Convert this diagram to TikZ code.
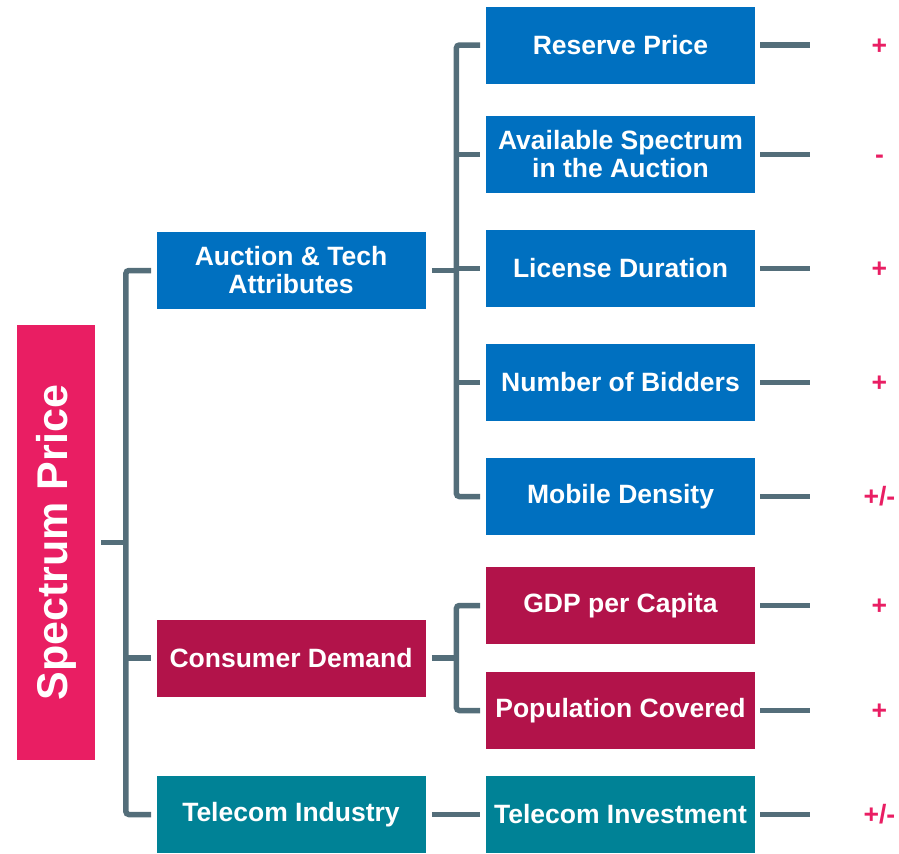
\documentclass[tikz,border=0pt]{standalone}
\usepackage{fontspec}
\setmainfont{Liberation Sans}
\usetikzlibrary{positioning}

\definecolor{pricepink}{HTML}{E91E63}
\definecolor{auctionblue}{HTML}{0070C0}
\definecolor{demandred}{HTML}{B2134A}
\definecolor{industryteal}{HTML}{008296}
\definecolor{linkgrey}{HTML}{546E7A}

\begin{document}
\begin{tikzpicture}[
    on grid,
    every node/.style={text=white, font=\bfseries\fontsize{13.25}{14}\selectfont, align=center},
    factor/.style={minimum width=134.5pt, minimum height=38.5pt, inner sep=0pt},
    link/.style={draw=linkgrey, line width=2.75pt},
    sign/.style={text=pricepink, anchor=base, yshift=-4.5pt}
]
    \useasboundingbox (0,0) rectangle (449.5pt,-426.5pt);

    % Define nodes
    \node[factor, fill=auctionblue] (reserve) at (310.25pt,-22.5pt) {Reserve Price};
    \node[factor, fill=auctionblue, below=54.75pt of reserve] (available) {Available Spectrum\\in the Auction};
    \node[factor, fill=auctionblue, below=57pt of available] (license) {License Duration};
    \node[factor, fill=auctionblue, below=57pt of license] (bidders) {Number of Bidders};
    \node[factor, fill=auctionblue, below=57pt of bidders] (density) {Mobile Density};
    \node[factor, fill=demandred, below=54.5pt of density] (gdp) {GDP per Capita};
    \node[factor, fill=demandred, below=52.5pt of gdp] (population) {Population Covered};
    \node[factor, fill=industryteal, below=52pt of population] (investment) {Telecom Investment};

    \node[factor, fill=auctionblue, left=164.75pt of license, yshift=-1pt] (auction) {Auction \& Tech\\Attributes};
    \node[factor, fill=demandred, left=164.75pt of gdp, yshift=-26.25pt] (demand) {Consumer Demand};
    \node[factor, fill=industryteal, left=164.75pt of investment] (industry) {Telecom Industry};

    \node[fill=pricepink, minimum width=217.5pt, minimum height=39pt, inner sep=0pt,
          font=\bfseries\fontsize{21.5}{24}\selectfont, rotate=90] (price) at (28pt,-271.25pt) {Spectrum Price};

    % Signs
    \node[right=62pt of reserve.east, sign] (reserve-sign) {+};
    \node[right=62pt of available.east, sign] (available-sign) {-};
    \node[right=62pt of license.east, sign] (license-sign) {+};
    \node[right=62pt of bidders.east, sign] (bidders-sign) {+};
    \node[right=62pt of density.east, sign] (density-sign) {+/-};
    \node[right=62pt of gdp.east, sign] (gdp-sign) {+};
    \node[right=62pt of population.east, sign] (population-sign) {+};
    \node[right=62pt of investment.east, sign] (investment-sign) {+/-};

    % Buses
    \coordinate (pricebus) at ([xshift=15.25pt]price.south);
    \coordinate (auctionbus) at ([xshift=15.25pt]auction.east);
    \coordinate (demandbus) at ([xshift=15.25pt]demand.east);

    % Connectors
    \draw[link] ([xshift=3pt]price.south) -- (pricebus);
    \draw[link, rounded corners=1.5pt] ([xshift=-2.5pt]auction.west) -| (pricebus) |- ([xshift=-2.5pt]industry.west);
    \draw[link] (pricebus |- demand) -- ([xshift=-2.5pt]demand.west);

    \draw[link] ([xshift=3pt]auction.east) -- (auctionbus);
    \draw[link, rounded corners=1.5pt] ([xshift=-2.75pt]reserve.west) -| (auctionbus) |- ([xshift=-2.75pt]density.west);
    \draw[link] (auctionbus |- available) -- ([xshift=-2.75pt]available.west);
    \draw[link] (auctionbus |- license) -- ([xshift=-2.75pt]license.west);
    \draw[link] (auctionbus |- bidders) -- ([xshift=-2.75pt]bidders.west);

    \draw[link] ([xshift=3pt]demand.east) -- (demandbus);
    \draw[link, rounded corners=1.5pt] ([xshift=-2.75pt]gdp.west) -| (demandbus) |- ([xshift=-2.75pt]population.west);

    \path[link, shorten <=3pt, shorten >=2.75pt] (industry) edge (investment);

    % Ticks
    \draw[link] ([xshift=2.5pt]reserve.east) -- ([xshift=27.5pt]reserve.east);
    \draw[link] ([xshift=2.5pt]available.east) -- ([xshift=27.5pt]available.east);
    \draw[link] ([xshift=2.5pt]license.east) -- ([xshift=27.5pt]license.east);
    \draw[link] ([xshift=2.5pt]bidders.east) -- ([xshift=27.5pt]bidders.east);
    \draw[link] ([xshift=2.5pt]density.east) -- ([xshift=27.5pt]density.east);
    \draw[link] ([xshift=2.5pt]gdp.east) -- ([xshift=27.5pt]gdp.east);
    \draw[link] ([xshift=2.5pt]population.east) -- ([xshift=27.5pt]population.east);
    \draw[link] ([xshift=2.5pt]investment.east) -- ([xshift=27.5pt]investment.east);
\end{tikzpicture}
\end{document}
